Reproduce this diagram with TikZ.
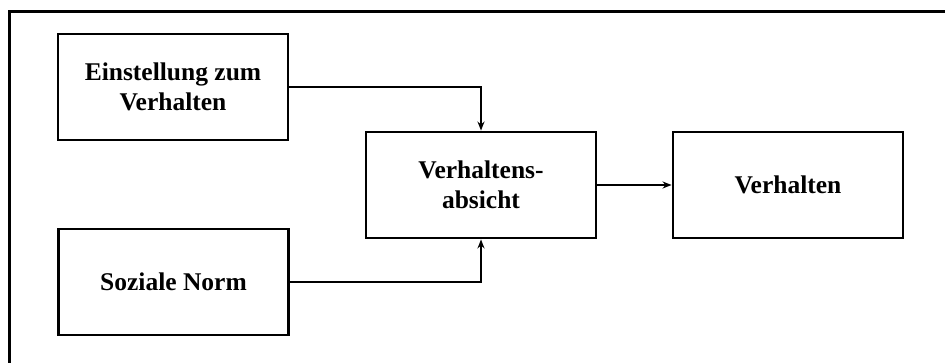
\documentclass[tikz,border=0pt]{standalone}
\usepackage{fontspec}
\setmainfont{Liberation Serif}
\usetikzlibrary{arrows.meta}
\begin{document}
\begin{tikzpicture}[x=1pt,y=-1pt,
  box/.style={draw=black,line width=2.9pt,minimum width=230pt,minimum height=106pt,align=center,
    font=\fontsize{25.5}{30}\selectfont\bfseries,inner sep=0pt},
  conn/.style={line width=2.7pt,-{Stealth[length=9pt,width=7pt]}}]
\useasboundingbox (0,0) rectangle (945,363);
\draw[line width=3.2pt] (9.5,370) -- (9.5,11.5) -- (950,11.5);
\node[box] (einst) at (173,87) {Einstellung zum\\Verhalten};
\node[box] (norm) at (173.5,282) {Soziale Norm};
\node[box] (absicht) at (481,185) {Verhaltens-\\absicht};
\node[box] (verh) at (788,185) {Verhalten};
\draw[conn] (einst.east) -| (absicht.north);
\draw[conn] (norm.east) -| (absicht.south);
\draw[conn] (absicht.east) -- (verh.west);
\end{tikzpicture}
\end{document}
